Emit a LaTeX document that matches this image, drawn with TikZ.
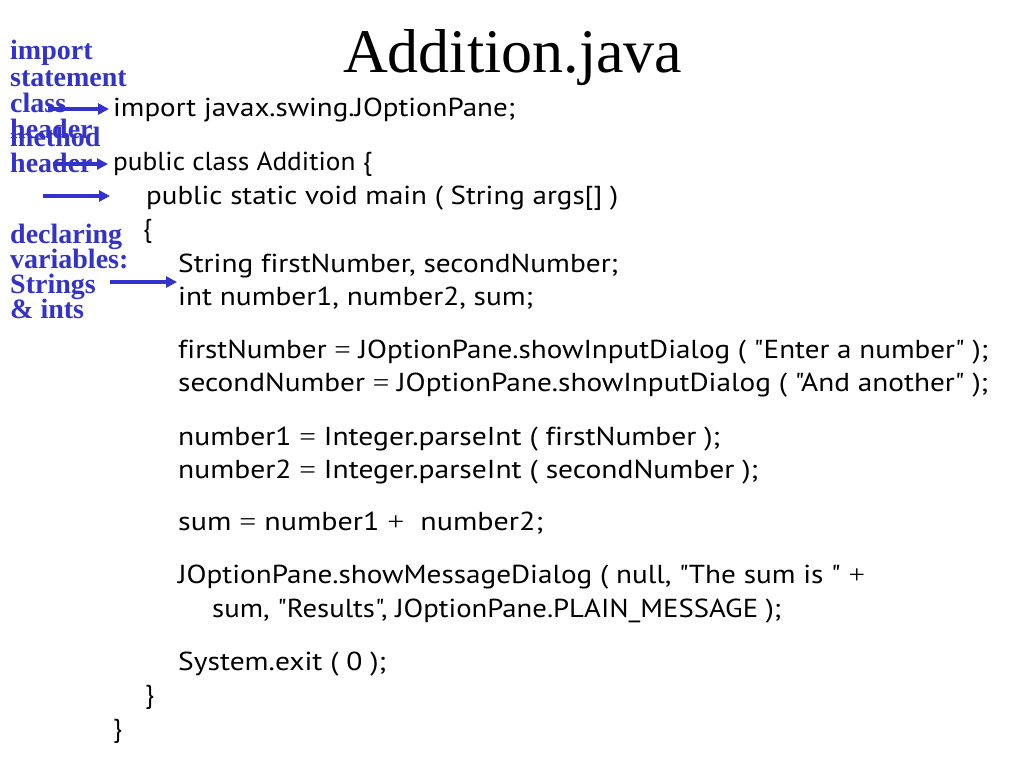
\documentclass[tikz,border=0pt]{standalone}
\usepackage{fontspec}
\usepackage{graphicx}
\usetikzlibrary{arrows.meta}
\setmainfont{Liberation Serif}
\newfontfamily\codefont[Ligatures={NoCommon}]{PT Sans}
\newfontfamily\tf{Liberation Serif}
\definecolor{lblue}{RGB}{51,51,204}
\newcommand{\fitw}[2]{\resizebox{#1bp}{\height}{#2}}
\begin{document}
\begin{tikzpicture}[x=1bp,y=-1bp,
  codeline/.style={anchor=base west,inner sep=0pt,font=\codefont\fontsize{26bp}{30bp}\selectfont,text=black},
  lbltext/.style={anchor=base west,inner sep=0pt,font=\bfseries\fontsize{28bp}{26bp}\selectfont,text=lblue},
  blarrow/.style={draw=lblue,line width=3.5bp,-{Triangle[length=11bp,width=11bp]}}]
\useasboundingbox[fill=white] (0,0) rectangle (1024,768);
% title
\node[anchor=base west,inner sep=0pt,font=\fontsize{62bp}{70bp}\selectfont] (title) at (343,73) {Addition.java};
% code lines
\node[codeline] (imp) at (113,117) {\fitw{402}{import javax.swing.JOptionPane;}};
\node[codeline] (cls) at (113,170) {\fitw{259}{public class Addition \{}};
\node[codeline] (mth) at (146,204) {\fitw{472}{public static void main ( String args[] )}};
\node[codeline] (ob1) at (143,237) {\{};
\node[codeline] (str) at (178,272) {\fitw{440}{String firstNumber, secondNumber;}};
\node[codeline] (int) at (178,305) {\fitw{355}{int number1, number2, sum;}};
\node[codeline] (fn) at (178,358) {\fitw{810}{firstNumber {\tf =} JOptionPane.showInputDialog ( "Enter a number" );}};
\node[codeline] (sn) at (178,391) {\fitw{810}{secondNumber {\tf =} JOptionPane.showInputDialog ( "And another" );}};
\node[codeline] (n1) at (178,445) {\fitw{542}{number1 {\tf =} Integer.parseInt ( firstNumber );}};
\node[codeline] (n2) at (178,478) {\fitw{580}{number2 {\tf =} Integer.parseInt ( secondNumber );}};
\node[codeline] (sm) at (178,530) {\fitw{365}{sum {\tf =} number1 {\tf +}\ \ number2;}};
\node[codeline] (jo) at (178,583) {\fitw{687}{JOptionPane.showMessageDialog ( null, "The sum is " {\tf +}}};
\node[codeline] (jo2) at (212,617) {\fitw{569}{sum, "Results", JOptionPane.PLAIN\_MESSAGE );}};
\node[codeline] (sx) at (178,670) {\fitw{208}{System.exit ( 0 );}};
\node[codeline] (cb1) at (145,703) {\}};
\node[codeline] (cb2) at (113,737) {\}};
% labels
\node[lbltext] (l1a) at (10,60) {import};
\node[lbltext] (l1b) at (10,87) {statement};
\node[lbltext] (l2a) at (10,112) {class};
\node[lbltext] (l2b) at (10,138) {header};
\node[lbltext] (l3a) at (10,146) {method};
\node[lbltext] (l3b) at (10,172) {header};
\node[lbltext] (l4a) at (10,243) {declaring};
\node[lbltext] (l4b) at (10,268) {variables:};
\node[lbltext] (l4c) at (10,293) {Strings};
\node[lbltext] (l4d) at (10,318) {\& ints};
% arrows
\coordinate (a1s) at (48,109);
\coordinate (a2s) at (53,164);
\coordinate (a3s) at (43,196);
\coordinate (a3e) at (110,196);
\coordinate (a4s) at (110,282);
\draw[blarrow] (a1s) -- ([xshift=-4bp]a1s -| imp.west);
\draw[blarrow] (a2s) -- ([xshift=-5bp]a2s -| cls.west);
\draw[blarrow] (a3s) -- (a3e);
\draw[blarrow] (a4s) -- ([xshift=-1bp]a4s -| str.west);
\end{tikzpicture}
\end{document}
